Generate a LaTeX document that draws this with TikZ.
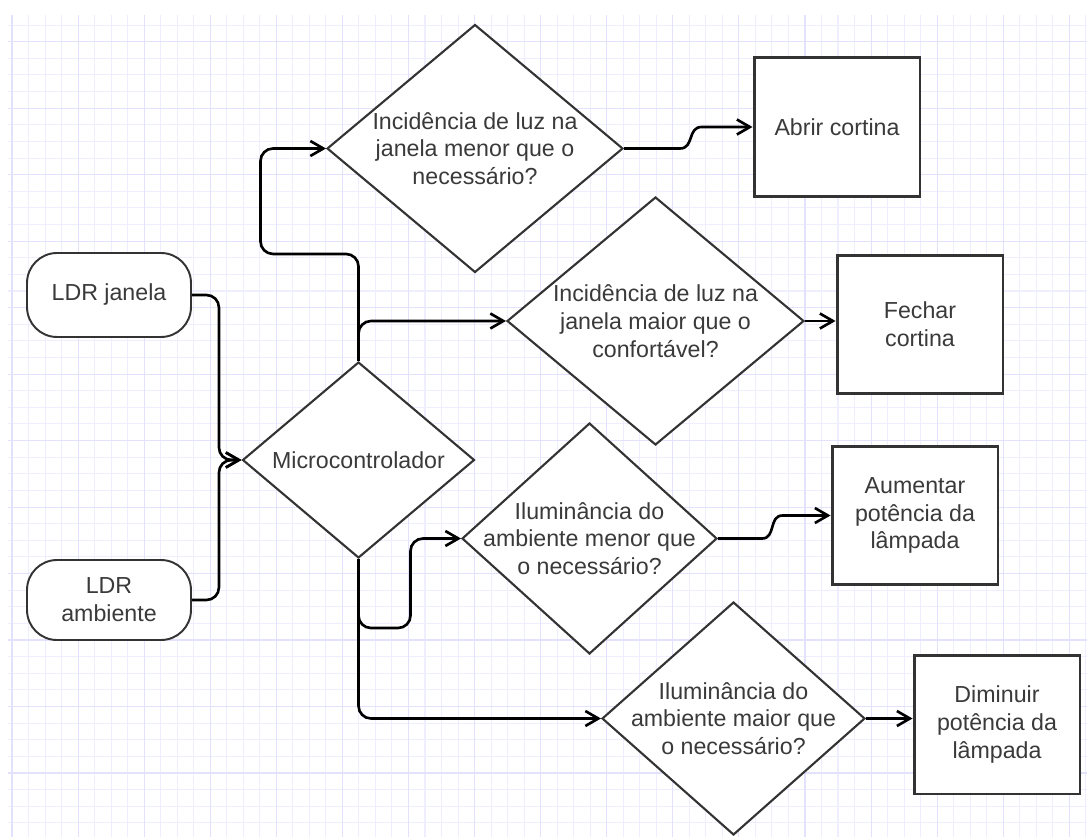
\documentclass[tikz,border=0pt]{standalone}
\usepackage{fontspec}
\setmainfont{Liberation Sans}
\usetikzlibrary{shapes.geometric,arrows.meta,calc}
\definecolor{shapegray}{RGB}{51,51,51}
\definecolor{textgray}{RGB}{58,58,58}
\definecolor{gridminor}{RGB}{238,238,254}
\definecolor{gridmajor}{RGB}{226,226,252}

\begin{document}
\begin{tikzpicture}[x=0.02cm,y=-0.02cm,font=\fontsize{13.2}{15.8}\selectfont]
 	\tikzstyle{g-minor}=[draw=gridminor,line width=0.6pt]
 	\tikzstyle{g-major}=[draw=gridmajor,line width=0.6pt]
 	\tikzstyle{s-node}=[rectangle,rounded corners=0.6cm,draw=shapegray,line width=1.1pt,fill=white,minimum width=3.28cm,minimum height=1.68cm,align=center,text=textgray]
 	\tikzstyle{d-node}=[diamond,draw=shapegray,line width=1.2pt,fill=white,inner sep=0pt]
 	\tikzstyle{a-node}=[rectangle,draw=shapegray,line width=1.7pt,fill=white,minimum width=3.32cm,minimum height=2.78cm,align=center,text=textgray]
 	\tikzstyle{every label}=[align=center,text=textgray]
 	\tikzstyle{conn}=[draw=black,line width=1.5pt,rounded corners=0.25cm,-{Straight Barb[length=0.26cm,width=0.3cm]}]
 	\useasboundingbox (0,0) rectangle (1087,837);
 	% background grid
 	\foreach \i in {0,...,65}
 		\draw[g-minor] ({12+16.52*\i},15) -- ({12+16.52*\i},837);
 	\foreach \j in {0,...,48}
 		\draw[g-minor] (8,{25.08+16.62*\j}) -- (1087,{25.08+16.62*\j});
 	\foreach \i in {0,4,...,64}
 		\draw[g-major] ({12+16.52*\i},15) -- ({12+16.52*\i},837);
 	\foreach \j in {1,5,...,45}
 		\draw[g-major] (8,{25.08+16.62*\j}) -- (1087,{25.08+16.62*\j});
 	% sensors
 	\node[s-node] (ldrj) at (109,295) {LDR janela};
 	\node[s-node,minimum height=1.6cm] (ldra) at (109,600) {LDR\\ambiente};
 	% controller
 	\node[d-node,minimum width=4.64cm,minimum height=3.92cm,label={[name=micro-text]center:Microcontrolador}] (micro) at (358.5,460) {};
 	% decisions
 	\node[d-node,minimum width=5.92cm,minimum height=4.96cm,label={[name=q1-text]center:Incidência de luz na\\janela menor que o\\necessário?}] (q1) at (475,148.5) {};
 	\node[d-node,minimum width=5.94cm,minimum height=4.96cm,label={[name=q2-text]center:Incidência de luz na\\janela maior que o\\confortável?}] (q2) at (655.5,321) {};
 	\node[d-node,minimum width=5.1cm,minimum height=4.62cm,label={[name=q3-text]center:Iluminância do\\ambiente menor que\\o necessário?}] (q3) at (589.5,538.5) {};
 	\node[d-node,minimum width=5.26cm,minimum height=4.66cm,label={[name=q4-text]center:Iluminância do\\ambiente maior que\\o necessário?}] (q4) at (733.5,718.5) {};
 	% actions
 	\node[a-node] (abrir)	at (837,127)	{Abrir cortina};
 	\node[a-node] (fechar)	at (920,324.5)	{Fechar\\cortina};
 	\node[a-node] (aument)	at (915,515.5)	{Aumentar\\potência da\\lâmpada};
 	\node[a-node] (dimin)	at (997,724.5)	{Diminuir\\potência da\\lâmpada};
 	% connectors
 	\draw[conn] (ldrj.east) -- ++(27,0) |- (micro.west);
 	\draw[conn] (ldra.east) -- ++(27,0) |- (micro.west);
 	\draw[conn] (micro.north) -- ++(0,-107) -- ++(-98,0) |- (q1.west);
 	\draw[conn] (micro.north) |- (q2.west);
 	\draw[conn] (micro.south) -- ++(0,69) -- ++(52,0) |- (q3.west);
 	\draw[conn] (micro.south) |- (q4.west);
 	\draw[conn,sharp corners] (q1.east) -- ++(56,0) .. controls +(14,0) and +(-14,0) .. ($(abrir.west)+(-51,0)$) -- (abrir.west);
 	\draw[conn] (q2.east) -- (q2.east -| fechar.west);
 	\draw[conn,sharp corners] (q3.east) -- ++(44,0) .. controls +(14,0) and +(-14,0) .. ($(aument.west)+(-48,0)$) -- (aument.west);
 	\draw[conn] (q4.east) -- (q4.east -| dimin.west);
\end{tikzpicture}
\end{document}
